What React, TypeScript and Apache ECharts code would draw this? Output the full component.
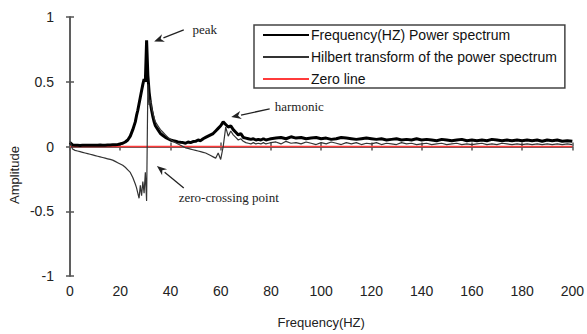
import React, { useEffect, useRef } from "react";
import * as echarts from "echarts";

// Frequency samples (Hz)
const freq = [
  0, 1, 2, 3, 4, 5, 6, 7, 8, 9, 10, 11, 12, 13, 14, 15, 16, 17, 18, 19, 20, 21, 22, 23, 24, 25, 26,
  26.5, 27, 27.5, 28, 28.5, 29, 29.5, 30, 30.5, 31, 31.5, 32, 32.5, 33, 33.5, 34,
  35, 36, 37, 38, 39, 40, 41, 42, 43, 44, 45, 46, 47, 48, 49, 50, 51, 52, 53, 54,
  55, 56, 57, 58, 59, 60, 61, 62, 63, 64, 65, 66, 67, 68, 69, 70, 71, 72, 73, 74,
  75, 76, 77, 78, 79, 80,
  82, 84, 86, 88, 90, 92, 94, 96, 98, 100,
  102, 104, 106, 108, 110, 112, 114, 116, 118, 120,
  122, 124, 126, 128, 130, 132, 134, 136, 138, 140,
  142, 144, 146, 148, 150, 152, 154, 156, 158, 160,
  162, 164, 166, 168, 170, 172, 174, 176, 178, 180,
  182, 184, 186, 188, 190, 192, 194, 196, 198, 200,
];

// Power spectrum amplitude
const powerSpectrum = [
  0.03, 0.012, 0.01, 0.01, 0.008, 0.01, 0.01, 0.009, 0.01, 0.01,
  0.01, 0.01, 0.011, 0.01, 0.01, 0.012, 0.012, 0.013, 0.014, 0.016,
  0.02, 0.025, 0.035, 0.05, 0.08, 0.13, 0.19,
  0.24, 0.28, 0.33, 0.38, 0.43, 0.48, 0.52, 0.5, 0.82, 0.55, 0.42, 0.34, 0.28, 0.23, 0.19, 0.16,
  0.13, 0.1, 0.085, 0.07, 0.06, 0.05, 0.045, 0.04, 0.035, 0.032,
  0.03, 0.025, 0.035, 0.03, 0.038, 0.04, 0.05, 0.045, 0.06, 0.07,
  0.08, 0.09, 0.1, 0.12, 0.14, 0.16, 0.19, 0.17, 0.15, 0.16,
  0.13, 0.11, 0.09, 0.1, 0.07, 0.065, 0.06, 0.055, 0.06, 0.05,
  0.055, 0.05, 0.06, 0.05, 0.055, 0.06,
  0.065, 0.07, 0.06, 0.075, 0.065, 0.07, 0.06, 0.065, 0.07, 0.06,
  0.065, 0.055, 0.06, 0.07, 0.065, 0.06, 0.055, 0.06, 0.065, 0.06,
  0.055, 0.06, 0.05, 0.055, 0.06, 0.05, 0.055, 0.05, 0.06, 0.05,
  0.055, 0.05, 0.045, 0.055, 0.05, 0.045, 0.05, 0.055, 0.045, 0.05,
  0.045, 0.05, 0.045, 0.055, 0.05, 0.045, 0.05, 0.045, 0.05, 0.045,
  0.05, 0.045, 0.05, 0.04, 0.05, 0.045, 0.05, 0.04, 0.045, 0.04,
];

// Hilbert transform of the power spectrum
const hilbert = [
  0.04, -0.02, -0.03, -0.035, -0.04, -0.045, -0.05, -0.055, -0.06, -0.065,
  -0.07, -0.075, -0.08, -0.085, -0.09, -0.095, -0.1, -0.105, -0.115, -0.125,
  -0.135, -0.145, -0.16, -0.18, -0.2, -0.24, -0.29,
  -0.32, -0.36, -0.4, -0.3, -0.38, -0.27, -0.36, -0.2, -0.42, 0.48, 0.32, 0.36, 0.3, 0.26, 0.22, 0.19,
  0.16, 0.13, 0.11, 0.09, 0.07, 0.055, 0.04, 0.03, 0.02, 0.01,
  0.0, -0.01, -0.015, -0.02, -0.025, -0.03, -0.035, -0.04, -0.045, -0.05,
  -0.06, -0.07, -0.08, -0.09, -0.05, -0.1, 0.0, 0.15, 0.08, 0.12,
  0.09, 0.07, 0.05, 0.06, 0.04, 0.03, 0.025, 0.02, 0.03, 0.02,
  0.025, 0.02, 0.03, 0.02, 0.025, 0.03,
  0.035, 0.02, 0.04, 0.025, 0.03, 0.02, 0.035, 0.025, 0.015, 0.03,
  0.02, 0.035, 0.025, 0.015, 0.03, 0.02, 0.03, 0.015, 0.025, 0.02,
  0.03, 0.015, 0.025, 0.02, 0.015, 0.03, 0.02, 0.025, 0.015, 0.02,
  0.025, 0.015, 0.02, 0.025, 0.015, 0.02, 0.025, 0.015, 0.02, 0.015,
  0.02, 0.025, 0.015, 0.02, 0.015, 0.025, 0.02, 0.015, 0.02, 0.015,
  0.02, 0.015, 0.02, 0.015, 0.02, 0.015, 0.02, 0.015, 0.02, 0.015,
];

const zeroFreq = [0, 200];
const zeroValues = [0, 0];

const seriesNames = [
  "Frequency(HZ) Power spectrum",
  "Hilbert transform of the power spectrum",
  "Zero line",
];

// Annotations in data coordinates
const annotations = [
  { text: "peak", tip: [33.5, 0.81], tail: [45.3, 0.9], label: [48.8, 0.9] },
  { text: "harmonic", tip: [64.2, 0.227], tail: [79.5, 0.29], label: [81.5, 0.31] },
  { text: "zero-crossing point", tip: [34.6, -0.15], tail: [45.3, -0.32], label: [43.3, -0.39] },
];

const pairs = (xs: number[], ys: number[]) => {
  const n = Math.min(xs.length, ys.length);
  const out: number[][] = [];
  for (let i = 0; i < n; i++) out.push([xs[i], ys[i]]);
  return out;
};

const sansFont = "'Liberation Sans', Arial, sans-serif";

export default function App() {
  const ref = useRef<HTMLDivElement>(null);
  useEffect(() => {
    if (!ref.current) return;
    document.body.style.margin = "0";
    const chart = echarts.init(ref.current, undefined, { renderer: "svg" });
    const axisLine = { show: true, lineStyle: { color: "#555", width: 1.5 } };
    const tick = { show: true, inside: true, length: 4, lineStyle: { color: "#555", width: 1.5 } };
    chart.setOption({
      animation: false,
      backgroundColor: "#fff",
      grid: { left: 70, right: 9, top: 17, bottom: 55, containLabel: false },
      xAxis: [
        {
          type: "value",
          min: 0,
          max: 200,
          interval: 20,
          name: "Frequency(HZ)",
          nameLocation: "middle",
          nameGap: 40,
          nameTextStyle: { fontFamily: sansFont, fontSize: 13, color: "#222" },
          axisLine,
          axisTick: tick,
          splitLine: { show: false },
          axisLabel: { fontFamily: sansFont, fontSize: 14, color: "#222", margin: 8 },
        },
        {
          type: "value",
          position: "top",
          min: 0,
          max: 200,
          interval: 20,
          axisLine,
          axisTick: tick,
          splitLine: { show: false },
          axisLabel: { show: false },
        },
      ],
      yAxis: [
        {
          type: "value",
          min: -1,
          max: 1,
          interval: 0.5,
          axisLine,
          axisTick: tick,
          splitLine: { show: false },
          axisLabel: {
            fontFamily: sansFont,
            fontSize: 14,
            color: "#222",
            margin: 16,
            padding: [0, 0, 8, 0],
          },
        },
        {
          type: "value",
          position: "right",
          min: -1,
          max: 1,
          interval: 0.5,
          axisLine,
          axisTick: tick,
          splitLine: { show: false },
          axisLabel: { show: false },
        },
      ],
      legend: {
        data: seriesNames,
        orient: "vertical",
        left: 254,
        top: 25,
        padding: [3, 8, 2, 8],
        itemGap: 8,
        itemWidth: 46,
        itemHeight: 14,
        borderColor: "#444",
        borderWidth: 1.5,
        backgroundColor: "#fff",
        itemStyle: { opacity: 0, color: "transparent", borderWidth: 0 },
        textStyle: { fontFamily: sansFont, fontSize: 14, color: "#111", padding: [0, 0, 0, -3] },
      },
      series: [
        {
          name: seriesNames[0],
          type: "line",
          data: pairs(freq, powerSpectrum),
          symbol: "none",
          lineStyle: { color: "#000", width: 3 },
          itemStyle: { color: "#000" },
          z: 3,
        },
        {
          name: seriesNames[1],
          type: "line",
          data: pairs(freq, hilbert),
          symbol: "none",
          lineStyle: { color: "#333", width: 1.2 },
          itemStyle: { color: "#333" },
          z: 4,
        },
        {
          name: seriesNames[2],
          type: "line",
          data: pairs(zeroFreq, zeroValues),
          symbol: "none",
          lineStyle: { color: "#ff3b3b", width: 1.5 },
          itemStyle: { color: "#ff3b3b" },
          z: 2,
        },
      ],
    });

    const graphics: any[] = [];
    for (const a of annotations) {
      const tip = chart.convertToPixel({ gridIndex: 0 }, a.tip) as number[];
      const tail = chart.convertToPixel({ gridIndex: 0 }, a.tail) as number[];
      const lab = chart.convertToPixel({ gridIndex: 0 }, a.label) as number[];
      const dx = tip[0] - tail[0];
      const dy = tip[1] - tail[1];
      const len = Math.sqrt(dx * dx + dy * dy) || 1;
      const ux = dx / len;
      const uy = dy / len;
      const hl = 10;
      const hw = 4;
      const bx = tip[0] - ux * hl;
      const by = tip[1] - uy * hl;
      graphics.push({
        type: "line",
        shape: { x1: tail[0], y1: tail[1], x2: bx, y2: by },
        style: { stroke: "#222", lineWidth: 1.3 },
        silent: true,
      });
      graphics.push({
        type: "polygon",
        shape: {
          points: [
            [tip[0], tip[1]],
            [bx - uy * hw, by + ux * hw],
            [bx + ux * 3, by + uy * 3],
            [bx + uy * hw, by - ux * hw],
          ],
        },
        style: { fill: "#222" },
        silent: true,
      });
      graphics.push({
        type: "text",
        x: lab[0],
        y: lab[1],
        style: {
          text: a.text,
          fontFamily: "'Liberation Serif', 'DejaVu Serif', serif",
          fontSize: 13,
          fill: "#222",
          verticalAlign: "middle",
          align: "left",
        },
        silent: true,
      });
    }
    graphics.push({
      type: "text",
      x: 14,
      y: 175,
      rotation: Math.PI / 2,
      style: {
        text: "Amplitude",
        fontFamily: sansFont,
        fontSize: 13,
        fill: "#222",
        align: "center",
        verticalAlign: "middle",
      },
      silent: true,
    });
    chart.setOption({ graphic: graphics });

    return () => chart.dispose();
  }, []);
  return <div ref={ref} style={{ width: 587, height: 334 }} />;
}
